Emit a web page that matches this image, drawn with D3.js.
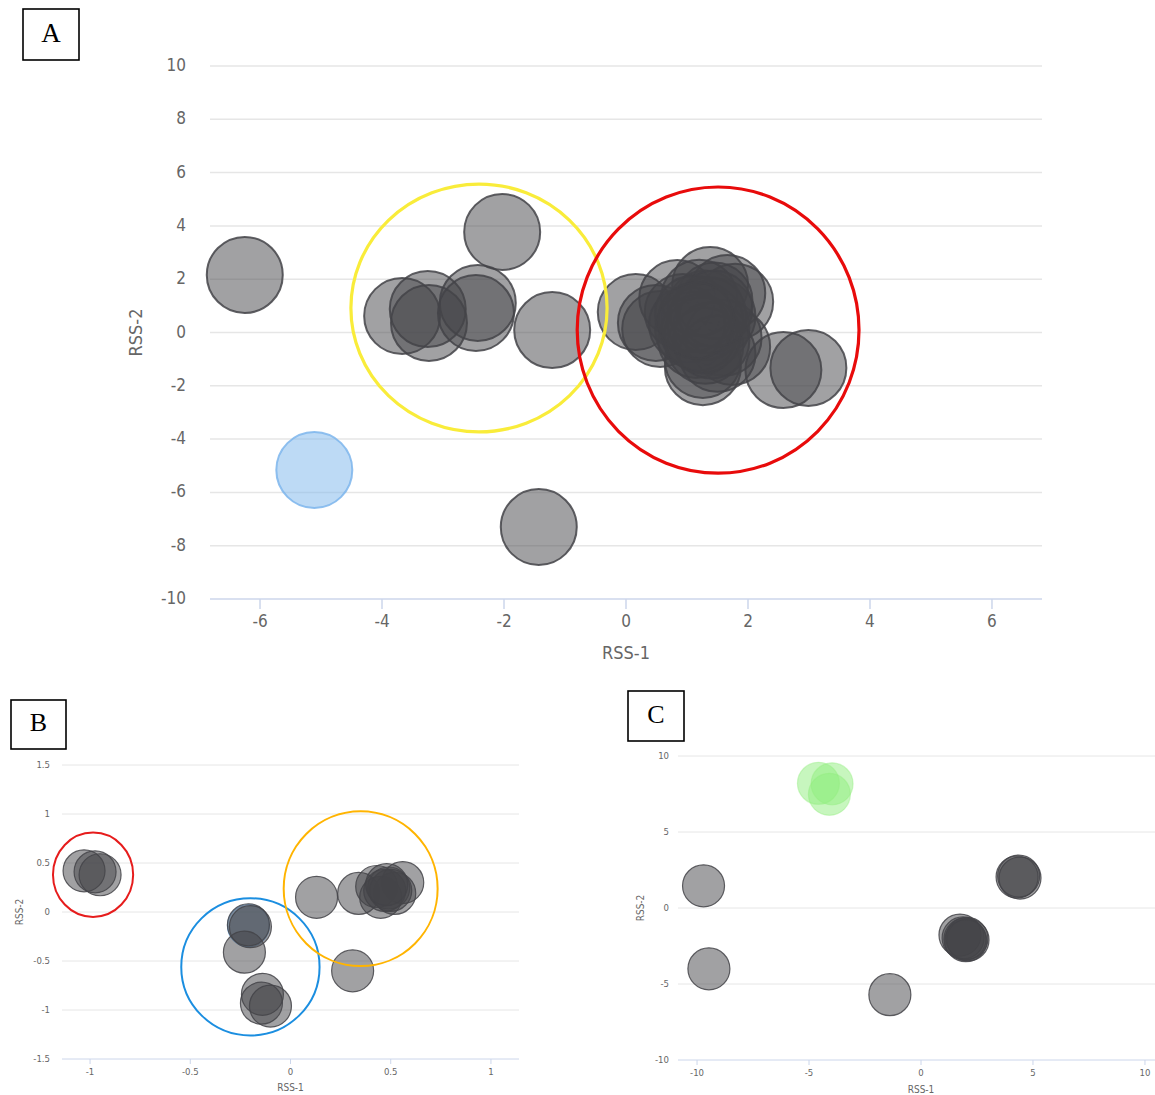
<!DOCTYPE html>
<html>
<head>
<meta charset="utf-8">
<script src="https://cdn.jsdelivr.net/npm/d3@7/dist/d3.min.js"></script>
<style>
  html, body { margin: 0; padding: 0; background: #fff; }
  svg { display: block; }
  .tick-label, .axis-title { font-family: "DejaVu Sans", "Open Sans", sans-serif; font-stretch: condensed; fill: #666; }
  .panel-tag { font-family: "Liberation Serif", "Times New Roman", serif; fill: #000; }
</style>
</head>
<body>
<svg id="chart" width="1155" height="1095"></svg>
<script>
// ---- Panel A: RSS-1 / RSS-2 scores ----
const aGray = [
  [-6.25, 2.16], [-1.43, -7.30], [-2.03, 3.77],
  [-3.67, 0.62], [-3.25, 0.88], [-3.23, 0.36], [-2.43, 1.11], [-2.46, 0.73], [-1.21, 0.09],
  [0.16, 0.77], [0.49, 0.36], [0.56, 0.13], [1.38, 1.78], [1.79, 1.15], [1.66, 1.48],
  [1.74, -0.54], [1.26, -1.03], [0.93, 0.77], [1.15, -0.28], [1.26, -1.30], [0.84, 1.29],
  [1.20, 0.50], [1.40, 0.20], [1.30, 0.90], [1.50, 0.60], [1.10, 0.10], [1.60, -0.20],
  [1.30, -0.50], [1.00, 0.30], [1.45, 1.20], [1.20, 1.30], [1.50, -0.80],
  [1.30, 0.40], [1.20, 0.00], [1.40, -0.30], [1.10, 0.70], [1.35, 0.65], [1.25, -0.10],
  [1.45, 0.90], [1.15, 0.45],
  [2.58, -1.41], [2.99, -1.33]
];
const aBlue = [[-5.11, -5.16]];
const aXTicks = [-6, -4, -2, 0, 2, 4, 6];
const aYTicks = [-10, -8, -6, -4, -2, 0, 2, 4, 6, 8, 10];
// group outlines: [cx, cy, rx, ry] in data units
const aRings = [
  { c: [-2.41, 0.92, 2.10, 4.65], color: "#f9ec3a" },
  { c: [1.51, 0.09, 2.31, 5.37], color: "#e80b0b" }
];

// ---- Panel B ----
const bGray = [
  [-1.03, 0.42], [-0.975, 0.41], [-0.95, 0.38],
  [-0.21, -0.13], [-0.20, -0.15], [-0.23, -0.41], [-0.14, -0.84], [-0.145, -0.93], [-0.10, -0.96],
  [0.13, 0.15], [0.34, 0.19], [0.43, 0.26], [0.49, 0.245], [0.56, 0.30], [0.52, 0.19],
  [0.45, 0.15], [0.47, 0.22], [0.50, 0.22], [0.48, 0.28], [0.31, -0.60]
];
const bBlue = [[-0.21, -0.14]];
const bXTicks = [-1, -0.5, 0, 0.5, 1];
const bYTicks = [-1.5, -1, -0.5, 0, 0.5, 1, 1.5];
const bRings = [
  { c: [-0.985, 0.38, 0.20, 0.43], color: "#e61c1c" },
  { c: [-0.20, -0.56, 0.345, 0.70], color: "#1b8ee0" },
  { c: [0.35, 0.238, 0.384, 0.79], color: "#ffb400" }
];

// ---- Panel C ----
const cGray = [
  [-9.71, 1.46], [-9.47, -4.00], [-1.39, -5.70],
  [1.74, -1.78], [1.88, -1.97], [2.10, -2.10], [1.96, -2.05], [2.05, -2.00], [2.00, -2.15],
  [4.29, 2.04], [4.42, 1.97], [4.36, 2.10]
];
const cGreen = [[-4.58, 8.20], [-3.97, 8.17], [-4.09, 7.48]];
const cXTicks = [-10, -5, 0, 5, 10];
const cYTicks = [-10, -5, 0, 5, 10];

const svg = d3.select("#chart");

function drawPanel(p) {
  const g = svg.append("g");
  const x = d3.scaleLinear().domain(p.xDomain).range([p.left, p.right]);
  const y = d3.scaleLinear().domain(p.yDomain).range([p.bottom, p.top]);

  // horizontal grid
  g.append("g").selectAll("line").data(p.yTicks.filter(t => t !== p.yDomain[0])).join("line")
    .attr("x1", p.left).attr("x2", p.right)
    .attr("y1", d => y(d)).attr("y2", d => y(d))
    .attr("stroke", "#e6e6e6").attr("stroke-width", p.gridW);

  // bottom axis line and ticks
  g.append("line")
    .attr("x1", p.left).attr("x2", p.right)
    .attr("y1", y(p.yDomain[0])).attr("y2", y(p.yDomain[0]))
    .attr("stroke", "#ccd6eb").attr("stroke-width", p.gridW);
  g.append("g").selectAll("line").data(p.xTicks).join("line")
    .attr("x1", d => x(d)).attr("x2", d => x(d))
    .attr("y1", y(p.yDomain[0])).attr("y2", y(p.yDomain[0]) + p.tickLen)
    .attr("stroke", "#ccd6eb").attr("stroke-width", p.gridW);

  // tick labels
  const fmt = d => String(d);
  g.append("g").selectAll("text").data(p.xTicks).join("text")
    .attr("class", "tick-label")
    .attr("x", d => x(d)).attr("y", p.xLabelY)
    .attr("text-anchor", "middle").attr("dominant-baseline", "middle")
    .attr("font-size", p.fs)
    .text(fmt);
  g.append("g").selectAll("text").data(p.yTicks).join("text")
    .attr("class", "tick-label")
    .attr("x", p.yLabelX).attr("y", d => y(d))
    .attr("text-anchor", "end").attr("dominant-baseline", "middle")
    .attr("font-size", p.fs)
    .text(fmt);

  // axis titles
  g.append("text").attr("class", "axis-title")
    .attr("x", x(0)).attr("y", p.xTitleY)
    .attr("text-anchor", "middle").attr("dominant-baseline", "middle")
    .attr("font-size", p.tfs).text("RSS-1");
  g.append("text").attr("class", "axis-title")
    .attr("transform", `translate(${p.yTitleX},${y(0)}) rotate(-90)`)
    .attr("text-anchor", "middle").attr("dominant-baseline", "middle")
    .attr("font-size", p.tfs).text("RSS-2");

  // bubbles
  const plot = g.append("g");
  p.series.forEach(s => {
    plot.append("g").selectAll("circle").data(s.data).join("circle")
      .attr("cx", d => x(d[0])).attr("cy", d => y(d[1]))
      .attr("r", p.r)
      .attr("fill", s.color).attr("fill-opacity", 0.5)
      .attr("stroke", s.color).attr("stroke-opacity", s.strokeOpacity || 0.85)
      .attr("stroke-width", p.strokeW);
  });

  // group outlines
  g.append("g").selectAll("ellipse").data(p.rings || []).join("ellipse")
    .attr("cx", d => x(d.c[0])).attr("cy", d => y(d.c[1]))
    .attr("rx", d => x(d.c[0] + d.c[2]) - x(d.c[0]))
    .attr("ry", d => y(d.c[1]) - y(d.c[1] + d.c[3]))
    .attr("fill", "none").attr("stroke", d => d.color).attr("stroke-width", p.ringW);

  // panel tag
  const t = p.tag;
  g.append("rect").attr("x", t.x).attr("y", t.y).attr("width", t.w).attr("height", t.h)
    .attr("fill", "#fff").attr("stroke", "#000").attr("stroke-width", 1.6);
  g.append("text").attr("class", "panel-tag")
    .attr("x", t.x + t.w / 2).attr("y", t.y + t.h / 2 + 1)
    .attr("text-anchor", "middle").attr("dominant-baseline", "middle")
    .attr("font-size", t.fs).text(t.label);
}

const DARK = "#434348", BLUE = "#7cb5ec", GREEN = "#90ed7d";

drawPanel({
  xDomain: [-6.82, 6.82], yDomain: [-10, 10],
  left: 210, right: 1042, top: 66, bottom: 599,
  xTicks: aXTicks, yTicks: aYTicks,
  gridW: 1.5, tickLen: 10, fs: 17, tfs: 18,
  xLabelY: 622, yLabelX: 186, xTitleY: 654, yTitleX: 137,
  r: 38, strokeW: 2, ringW: 3.2,
  series: [{ data: aGray, color: DARK }, { data: aBlue, color: BLUE }],
  rings: aRings,
  tag: { x: 23, y: 9, w: 56, h: 51, fs: 27, label: "A" }
});

drawPanel({
  xDomain: [-1.14, 1.14], yDomain: [-1.5, 1.5],
  left: 62, right: 519, top: 765, bottom: 1059,
  xTicks: bXTicks, yTicks: bYTicks,
  gridW: 1, tickLen: 5, fs: 9.5, tfs: 10,
  xLabelY: 1072, yLabelX: 50, xTitleY: 1088, yTitleX: 20,
  r: 21, strokeW: 1.2, ringW: 2,
  series: [{ data: bBlue, color: BLUE }, { data: bGray, color: DARK }],
  rings: bRings,
  tag: { x: 11, y: 700, w: 55, h: 49, fs: 26, label: "B" }
});

drawPanel({
  xDomain: [-10.85, 10.85], yDomain: [-10, 10],
  left: 678, right: 1164, top: 756, bottom: 1060,
  xTicks: cXTicks, yTicks: cYTicks,
  gridW: 1, tickLen: 5, fs: 9.5, tfs: 10,
  xLabelY: 1073, yLabelX: 669, xTitleY: 1090, yTitleX: 641,
  r: 21, strokeW: 1.2, ringW: 2,
  series: [{ data: cGray, color: DARK }, { data: cGreen, color: GREEN, strokeOpacity: 0.4 }],
  rings: [],
  tag: { x: 628, y: 691, w: 56, h: 50, fs: 26, label: "C" }
});
</script>
</body>
</html>
